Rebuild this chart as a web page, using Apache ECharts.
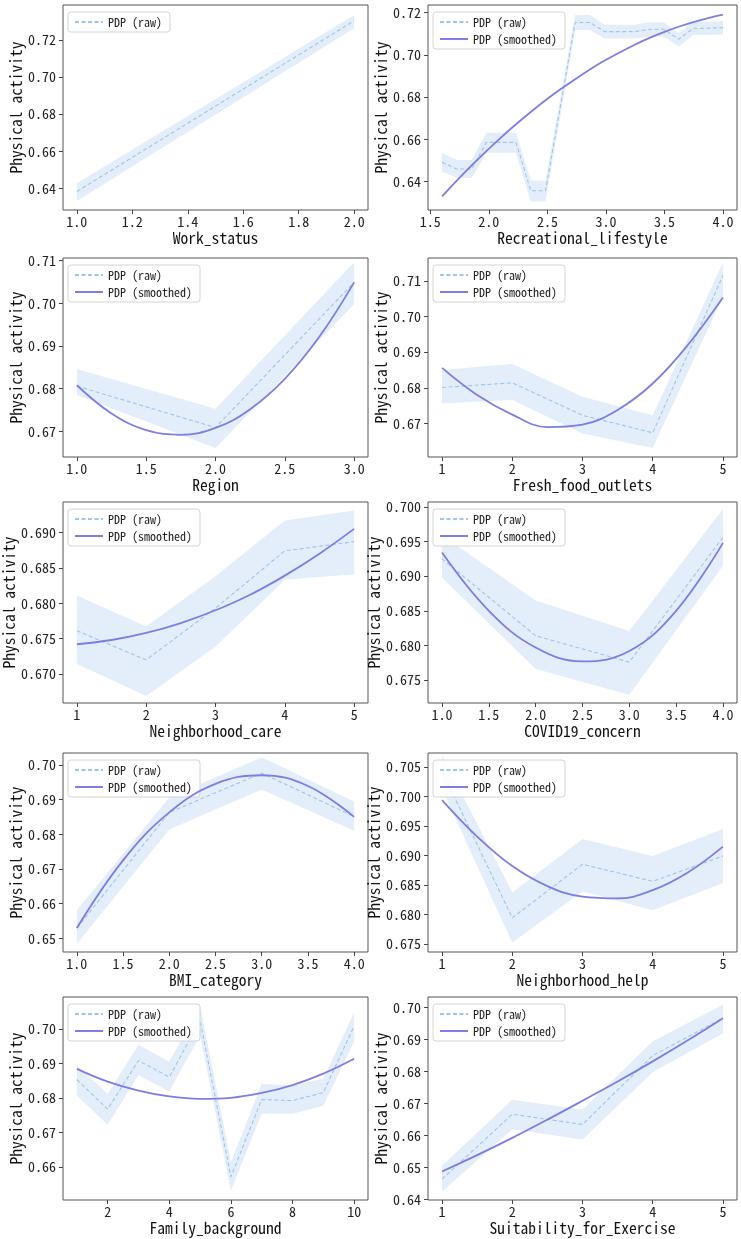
<!DOCTYPE html>
<html>
<head>
<meta charset="utf-8">
<script src="https://cdn.jsdelivr.net/npm/echarts@6/dist/echarts.min.js"></script>
<style>
html, body { margin: 0; padding: 0; background: #fff; }
#main { width: 741px; height: 1239px; }
</style>
</head>
<body>
<div id="main"></div>
<script>
//***** data
var yName = 'Physical activity';

// Work_status
var workX = [1, 2];
var workRaw = [0.6383, 0.7304];
var workLo = [0.6332, 0.7263];
var workHi = [0.6427, 0.7335];
var workXTicks = [1.0, 1.2, 1.4, 1.6, 1.8, 2.0];
var workYTicks = [0.64, 0.66, 0.68, 0.70, 0.72];

// Recreational_lifestyle
var recX = [1.600, 1.726, 1.853, 1.979, 2.105, 2.232, 2.358, 2.484, 2.611, 2.737,
            2.863, 2.989, 3.116, 3.242, 3.368, 3.495, 3.621, 3.747, 3.874, 4.000];
var recRaw = [0.6492, 0.6460, 0.6460, 0.6586, 0.6586, 0.6586, 0.6357, 0.6357, 0.6755, 0.7153,
              0.7153, 0.7110, 0.7110, 0.7110, 0.7121, 0.7121, 0.7074, 0.7126, 0.7126, 0.7129];
var recLo = [0.6448, 0.6418, 0.6418, 0.6537, 0.6537, 0.6537, 0.6306, 0.6306, 0.6712, 0.7118,
             0.7118, 0.7078, 0.7078, 0.7078, 0.7087, 0.7087, 0.7040, 0.7094, 0.7094, 0.7096];
var recHi = [0.6536, 0.6503, 0.6503, 0.6632, 0.6632, 0.6632, 0.6405, 0.6405, 0.6797, 0.7189,
             0.7189, 0.7142, 0.7142, 0.7142, 0.7154, 0.7154, 0.7104, 0.7157, 0.7157, 0.7160];
var recSm = [0.6330, 0.6405, 0.6477, 0.6545, 0.6610, 0.6672, 0.6730, 0.6785, 0.6837, 0.6885,
             0.6931, 0.6973, 0.7011, 0.7047, 0.7079, 0.7108, 0.7133, 0.7155, 0.7174, 0.7190];
var recXTicks = [1.5, 2.0, 2.5, 3.0, 3.5, 4.0];
var recYTicks = [0.64, 0.66, 0.68, 0.70, 0.72];

// Region
var regX = [1, 2, 3];
var regRaw = [0.6806, 0.6709, 0.7049];
var regLo = [0.6785, 0.6661, 0.6998];
var regHi = [0.6846, 0.6753, 0.7096];
var regSmX = [1, 1.25, 1.5, 1.75, 2, 2.25, 2.5, 2.75, 3];
var regSm = [0.6808, 0.6742, 0.6703, 0.6692, 0.6708, 0.6752, 0.6823, 0.6922, 0.7049];
var regXTicks = [1.0, 1.5, 2.0, 2.5, 3.0];
var regYTicks = [0.67, 0.68, 0.69, 0.70, 0.71];

// Fresh_food_outlets
var freshX = [1, 2, 3, 4, 5];
var freshRaw = [0.6801, 0.6814, 0.6723, 0.6674, 0.7115];
var freshLo = [0.6756, 0.6766, 0.6672, 0.6631, 0.7056];
var freshHi = [0.6850, 0.6867, 0.6775, 0.6723, 0.7152];
var freshSmX = [1, 1.5, 2, 2.5, 3, 3.5, 4, 4.5, 5];
var freshSm = [0.6856, 0.6780, 0.6725, 0.6690, 0.6697, 0.6738, 0.6812, 0.6920, 0.7053];
var freshXTicks = [1, 2, 3, 4, 5];
var freshYTicks = [0.67, 0.68, 0.69, 0.70, 0.71];

// Neighborhood_care
var careX = [1, 2, 3, 4, 5];
var careRaw = [0.6761, 0.6720, 0.6793, 0.6874, 0.6887];
var careLo = [0.6714, 0.6669, 0.6739, 0.6833, 0.6841];
var careHi = [0.6811, 0.6767, 0.6838, 0.6917, 0.6931];
var careSmX = [1, 1.5, 2, 2.5, 3, 3.5, 4, 4.5, 5];
var careSm = [0.6742, 0.6748, 0.6758, 0.6772, 0.6790, 0.6812, 0.6839, 0.6870, 0.6905];
var careXTicks = [1, 2, 3, 4, 5];
var careYTicks = [0.670, 0.675, 0.680, 0.685, 0.690];

// COVID19_concern
var covX = [1, 2, 3, 4];
var covRaw = [0.6925, 0.6814, 0.6776, 0.6956];
var covLo = [0.6898, 0.6766, 0.6729, 0.6915];
var covHi = [0.6959, 0.6865, 0.6821, 0.6997];
var covSmX = [1, 1.5, 2, 2.5, 3, 3.5, 4];
var covSm = [0.6934, 0.6850, 0.6797, 0.6777, 0.6792, 0.6850, 0.6948];
var covXTicks = [1.0, 1.5, 2.0, 2.5, 3.0, 3.5, 4.0];
var covYTicks = [0.675, 0.680, 0.685, 0.690, 0.695, 0.700];

// BMI_category
var bmiX = [1, 2, 3, 4];
var bmiRaw = [0.6530, 0.6863, 0.6976, 0.6851];
var bmiLo = [0.6485, 0.6814, 0.6929, 0.6810];
var bmiHi = [0.6581, 0.6906, 0.7022, 0.6894];
var bmiSmX = [1, 1.5, 2, 2.5, 3, 3.5, 4];
var bmiSm = [0.6530, 0.6725, 0.6863, 0.6945, 0.6970, 0.6939, 0.6850];
var bmiXTicks = [1.0, 1.5, 2.0, 2.5, 3.0, 3.5, 4.0];
var bmiYTicks = [0.65, 0.66, 0.67, 0.68, 0.69, 0.70];

// Neighborhood_help
var helpX = [1, 2, 3, 4, 5];
var helpRaw = [0.7043, 0.6794, 0.6885, 0.6856, 0.6899];
var helpLo = [0.7012, 0.6752, 0.6839, 0.6807, 0.6853];
var helpHi = [0.7070, 0.6837, 0.6928, 0.6899, 0.6945];
var helpSmX = [1, 1.5, 2, 2.5, 3, 3.5, 4, 4.5, 5];
var helpSm = [0.6994, 0.6932, 0.6882, 0.6848, 0.6830, 0.6827, 0.6841, 0.6871, 0.6915];
var helpXTicks = [1, 2, 3, 4, 5];
var helpYTicks = [0.675, 0.680, 0.685, 0.690, 0.695, 0.700, 0.705];

// Family_background
var famX = [1, 2, 3, 4, 5, 6, 7, 8, 9, 10];
var famRaw = [0.6853, 0.6767, 0.6908, 0.6860, 0.7024, 0.6571, 0.6795, 0.6792, 0.6815, 0.7008];
var famLo = [0.6807, 0.6722, 0.6865, 0.6818, 0.6981, 0.6531, 0.6754, 0.6754, 0.6777, 0.6963];
var famHi = [0.6894, 0.6811, 0.6954, 0.6905, 0.7067, 0.6614, 0.6840, 0.6836, 0.6856, 0.7048];
var famSm = [0.6884, 0.6847, 0.6821, 0.6804, 0.6797, 0.6800, 0.6814, 0.6837, 0.6870, 0.6913];
var famXTicks = [2, 4, 6, 8, 10];
var famYTicks = [0.66, 0.67, 0.68, 0.69, 0.70];

// Suitability_for_Exercise
var suitX = [1, 2, 3, 4, 5];
var suitRaw = [0.6463, 0.6666, 0.6634, 0.6849, 0.6966];
var suitLo = [0.6424, 0.6619, 0.6587, 0.6797, 0.6919];
var suitHi = [0.6505, 0.6711, 0.6681, 0.6894, 0.7008];
var suitSmX = [1, 1.5, 2, 2.5, 3, 3.5, 4, 4.5, 5];
var suitSm = [0.6487, 0.6538, 0.6592, 0.6649, 0.6708, 0.6768, 0.6831, 0.6897, 0.6966];
var suitXTicks = [1, 2, 3, 4, 5];
var suitYTicks = [0.64, 0.65, 0.66, 0.67, 0.68, 0.69, 0.70];

//***** panel setup
var panels = [
    { xName: 'Work_status', x: workX, raw: workRaw, lo: workLo, hi: workHi, smX: null, sm: null,
      xMin: 0.95, xMax: 2.05, yMin: 0.6283, yMax: 0.7389, xTicks: workXTicks, yTicks: workYTicks, xDec: 1, yDec: 2 },
    { xName: 'Recreational_lifestyle', x: recX, raw: recRaw, lo: recLo, hi: recHi, smX: recX, sm: recSm,
      xMin: 1.48, xMax: 4.12, yMin: 0.6266, yMax: 0.7236, xTicks: recXTicks, yTicks: recYTicks, xDec: 1, yDec: 2 },
    { xName: 'Region', x: regX, raw: regRaw, lo: regLo, hi: regHi, smX: regSmX, sm: regSm,
      xMin: 0.9, xMax: 3.1, yMin: 0.6640, yMax: 0.7106, xTicks: regXTicks, yTicks: regYTicks, xDec: 1, yDec: 2 },
    { xName: 'Fresh_food_outlets', x: freshX, raw: freshRaw, lo: freshLo, hi: freshHi, smX: freshSmX, sm: freshSm,
      xMin: 0.8, xMax: 5.2, yMin: 0.6606, yMax: 0.7164, xTicks: freshXTicks, yTicks: freshYTicks, xDec: 0, yDec: 2 },
    { xName: 'Neighborhood_care', x: careX, raw: careRaw, lo: careLo, hi: careHi, smX: careSmX, sm: careSm,
      xMin: 0.8, xMax: 5.2, yMin: 0.6659, yMax: 0.6943, xTicks: careXTicks, yTicks: careYTicks, xDec: 0, yDec: 3 },
    { xName: 'COVID19_concern', x: covX, raw: covRaw, lo: covLo, hi: covHi, smX: covSmX, sm: covSm,
      xMin: 0.85, xMax: 4.15, yMin: 0.6717, yMax: 0.7007, xTicks: covXTicks, yTicks: covYTicks, xDec: 1, yDec: 3 },
    { xName: 'BMI_category', x: bmiX, raw: bmiRaw, lo: bmiLo, hi: bmiHi, smX: bmiSmX, sm: bmiSm,
      xMin: 0.85, xMax: 4.15, yMin: 0.6461, yMax: 0.7034, xTicks: bmiXTicks, yTicks: bmiYTicks, xDec: 1, yDec: 2 },
    { xName: 'Neighborhood_help', x: helpX, raw: helpRaw, lo: helpLo, hi: helpHi, smX: helpSmX, sm: helpSm,
      xMin: 0.8, xMax: 5.2, yMin: 0.6736, yMax: 0.7074, xTicks: helpXTicks, yTicks: helpYTicks, xDec: 0, yDec: 3 },
    { xName: 'Family_background', x: famX, raw: famRaw, lo: famLo, hi: famHi, smX: famX, sm: famSm,
      xMin: 0.55, xMax: 10.45, yMin: 0.6504, yMax: 0.7092, xTicks: famXTicks, yTicks: famYTicks, xDec: 0, yDec: 2 },
    { xName: 'Suitability_for_Exercise', x: suitX, raw: suitRaw, lo: suitLo, hi: suitHi, smX: suitSmX, sm: suitSm,
      xMin: 0.8, xMax: 5.2, yMin: 0.6398, yMax: 0.7032, xTicks: suitXTicks, yTicks: suitYTicks, xDec: 0, yDec: 2 }
];

var FONT = '"Noto Sans Mono CJK SC", "DejaVu Sans Mono", monospace';
var RAW_COLOR = '#9ec4ea';
var SM_COLOR = '#7d7de3';
var BAND_COLOR = '#e4eefa';

var colLeft = [63, 428];
var colWidth = [305, 309];
var rowTop = [5, 258, 502, 753, 997];
var rowHeight = [205, 199, 201, 199, 203];

function pairs(xs, ys) {
    var out = [];
    for (var k = 0; k < xs.length; k++) out.push([xs[k], ys[k]]);
    return out;
}

// fill_between band drawn as one polygon through the axis scales
function bandRender(xs, lo, hi) {
    return function (params, api) {
        if (params.dataIndex !== 0) return;
        var pts = [];
        for (var k = 0; k < xs.length; k++) pts.push(api.coord([xs[k], hi[k]]));
        for (var j = xs.length - 1; j >= 0; j--) pts.push(api.coord([xs[j], lo[j]]));
        return { type: 'polygon', shape: { points: pts }, style: { fill: BAND_COLOR } };
    };
}

var grids = [], xAxes = [], yAxes = [], series = [], legends = [];

panels.forEach(function (p, i) {
    var col = i % 2, row = Math.floor(i / 2);
    var left = colLeft[col], top = rowTop[row];
    grids.push({
        left: left, top: top, width: colWidth[col], height: rowHeight[row],
        show: true, borderColor: '#555', borderWidth: 1, backgroundColor: 'transparent'
    });
    xAxes.push({
        type: 'value', gridIndex: i, min: p.xMin, max: p.xMax,
        name: p.xName, nameLocation: 'middle', nameGap: 18,
        nameTextStyle: { fontFamily: FONT, fontSize: 15.5, color: '#111' },
        axisLine: { show: false },
        axisTick: { show: true, length: 4, customValues: p.xTicks, lineStyle: { color: '#444' } },
        axisLabel: {
            customValues: p.xTicks, margin: 5, fontFamily: FONT, fontSize: 14, color: '#222',
            formatter: function (v) { return v.toFixed(p.xDec); }
        },
        splitLine: { show: false }
    });
    var gap = p.yDec === 3 ? (col === 0 ? 46 : 44) : 38;
    yAxes.push({
        type: 'value', gridIndex: i, min: p.yMin, max: p.yMax,
        name: yName, nameLocation: 'middle', nameGap: gap,
        nameTextStyle: { fontFamily: FONT, fontSize: 15.5, color: '#111' },
        axisLine: { show: false },
        axisTick: { show: true, length: 4, customValues: p.yTicks, lineStyle: { color: '#444' } },
        axisLabel: {
            customValues: p.yTicks, margin: 7, fontFamily: FONT, fontSize: 14, color: '#222',
            formatter: function (v) { return v.toFixed(p.yDec); }
        },
        splitLine: { show: false }
    });

    var bandData = [];
    for (var k = 0; k < p.x.length; k++) bandData.push([p.x[k], p.lo[k], p.hi[k]]);
    series.push({
        type: 'custom', name: 'band' + i, xAxisIndex: i, yAxisIndex: i,
        data: bandData, encode: { x: 0, y: [1, 2] },
        renderItem: bandRender(p.x, p.lo, p.hi), silent: true, z: 1
    });
    series.push({
        type: 'line', name: 'PDP (raw)', xAxisIndex: i, yAxisIndex: i,
        data: pairs(p.x, p.raw), symbol: 'none', z: 3,
        itemStyle: { color: RAW_COLOR },
        lineStyle: { color: RAW_COLOR, width: 1.1, type: [4, 2.5] }
    });
    var names = ['PDP (raw)'];
    if (p.sm) {
        series.push({
            type: 'line', name: 'PDP (smoothed)', xAxisIndex: i, yAxisIndex: i,
            data: pairs(p.smX, p.sm), symbol: 'none', smooth: 0.4, smoothConstraint: false, z: 4,
            itemStyle: { color: SM_COLOR },
            lineStyle: { color: SM_COLOR, width: 1.8 }
        });
        names.push('PDP (smoothed)');
    }
    legends.push({
        left: left + 5, top: top + 7, orient: 'vertical', data: names,
        itemWidth: 28, itemHeight: 10, itemGap: 5, padding: [4, 8, 4, 6],
        backgroundColor: 'rgba(255,255,255,0.85)', borderColor: '#d4d4d4', borderWidth: 1, borderRadius: 3,
        selectedMode: false,
        itemStyle: { color: 'rgba(0,0,0,0)', borderWidth: 0, opacity: 0 },
        textStyle: { fontFamily: FONT, fontSize: 12, color: '#222' }
    });
});

var myChart = echarts.init(document.getElementById('main'));
myChart.setOption({
    animation: false,
    backgroundColor: '#fff',
    grid: grids,
    xAxis: xAxes,
    yAxis: yAxes,
    legend: legends,
    series: series
});
</script>
</body>
</html>
